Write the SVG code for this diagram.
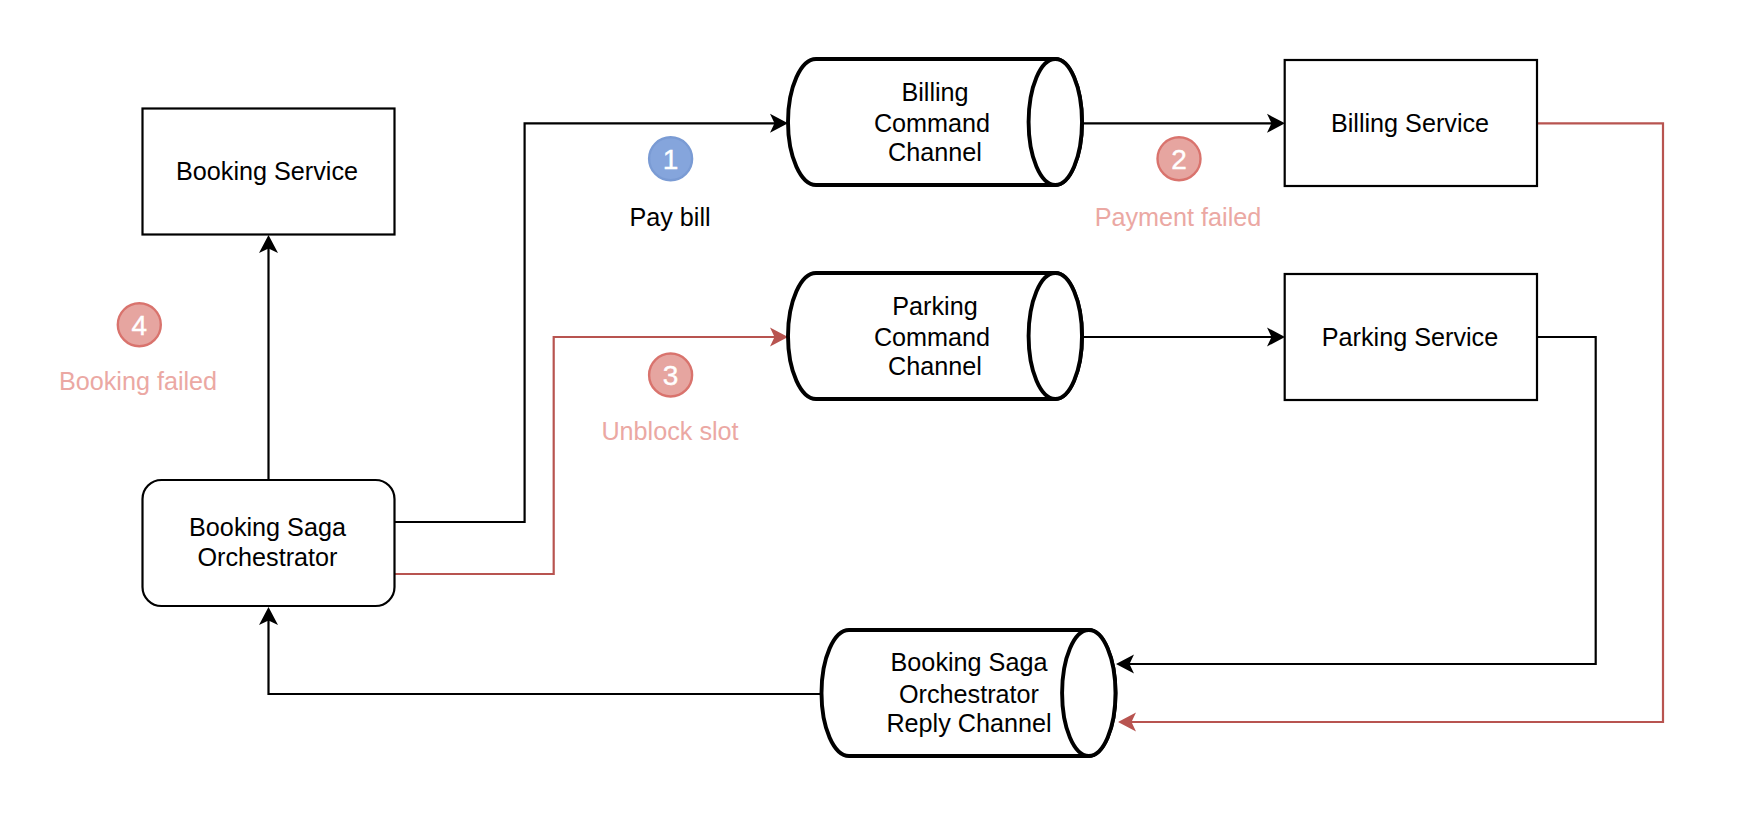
<svg xmlns="http://www.w3.org/2000/svg" width="1754" height="816" viewBox="0 0 1754 816">
<style>
text{font-family:"Liberation Sans",Arial,sans-serif;font-size:25.2px;fill:#000;text-anchor:middle}
.box{fill:#fff;stroke:#000;stroke-width:2.2}
.cyl{fill:#fff;stroke:#000;stroke-width:3.9}
.k{fill:none;stroke:#000;stroke-width:2.2}
.r{fill:none;stroke:#b85450;stroke-width:2.2}
.rc{fill:#e6a5a0;stroke:#d9736d;stroke-width:2.4}
.bc{fill:#85a5dc;stroke:#7a9bd4;stroke-width:2.4}
text.n{fill:#fff;font-size:28px;stroke:#fff;stroke-width:.4}
text.f{fill:#eba8a3}
</style>
<defs>
<marker id="ak" markerUnits="userSpaceOnUse" markerWidth="22" markerHeight="22" refX="15" refY="11" orient="auto"><path d="M0 1.5L18 11L0 20.5L4.5 11Z" fill="#000"/></marker>
<marker id="ar" markerUnits="userSpaceOnUse" markerWidth="22" markerHeight="22" refX="15" refY="11" orient="auto"><path d="M0 1.5L18 11L0 20.5L4.5 11Z" fill="#b85450"/></marker>
</defs>
<g id="connectors">
<path class="k" marker-end="url(#ak)" d="M268.5 480V238"/>
<path class="k" marker-end="url(#ak)" d="M394.5 522H524.6V123.3H785"/>
<path class="r" marker-end="url(#ar)" d="M394.5 574H553.7V337H785"/>
<path class="k" marker-end="url(#ak)" d="M1082 123.3H1282"/>
<path class="k" marker-end="url(#ak)" d="M1082 337H1282"/>
<path class="r" marker-end="url(#ar)" d="M1537 123.3H1663V722H1121"/>
<path class="k" marker-end="url(#ak)" d="M1537 337H1595.7V664H1119"/>
<path class="k" marker-end="url(#ak)" d="M821 694H268.5V610"/>
</g>
<g id="booking-service"><rect class="box" x="142.5" y="108.5" width="252" height="126"/><text x="267" y="179.5">Booking Service</text></g>
<g id="orchestrator"><rect class="box" x="142.5" y="480" width="252" height="126" rx="19" ry="19"/><text x="267.5" y="536">Booking Saga</text><text x="267.5" y="565.5">Orchestrator</text></g>
<g id="billing-channel"><path class="cyl" d="M816 59H1055C1069.5 59 1082 87 1082 122S1069.5 185 1055 185H816C801 185 788 157 788 122S801 59 816 59Z"/><ellipse class="cyl" cx="1055.3" cy="122" rx="26.7" ry="63"/><text x="935" y="101">Billing</text><text x="932" y="132">Command</text><text x="935" y="161">Channel</text></g>
<g id="parking-channel"><path class="cyl" d="M816 273H1055C1069.5 273 1082 301 1082 336S1069.5 399 1055 399H816C801 399 788 371 788 336S801 273 816 273Z"/><ellipse class="cyl" cx="1055.3" cy="336" rx="26.7" ry="63"/><text x="935" y="315">Parking</text><text x="932" y="346">Command</text><text x="935" y="375">Channel</text></g>
<g id="reply-channel"><path class="cyl" d="M849 630H1088.5C1103 630 1115.5 658 1115.5 693S1103 756 1088.5 756H849C834 756 821.5 728 821.5 693S834 630 849 630Z"/><ellipse class="cyl" cx="1088.8" cy="693" rx="26.7" ry="63"/><text x="969" y="671">Booking Saga</text><text x="969" y="702.5">Orchestrator</text><text x="969" y="731.5">Reply Channel</text></g>
<g id="billing-service"><rect class="box" x="1284.7" y="60" width="252.3" height="126"/><text x="1410" y="132">Billing Service</text></g>
<g id="parking-service"><rect class="box" x="1284.7" y="274" width="252.3" height="126"/><text x="1410" y="346">Parking Service</text></g>
<g id="step1"><circle class="bc" cx="670.6" cy="158.7" r="21.5"/><text class="n" x="670.6" y="168.5">1</text><text x="670" y="226">Pay bill</text></g>
<g id="step2"><circle class="rc" cx="1179" cy="158.7" r="21.5"/><text class="n" x="1179" y="168.5">2</text><text class="f" x="1178" y="226">Payment failed</text></g>
<g id="step3"><circle class="rc" cx="670.6" cy="375" r="21.5"/><text class="n" x="670.6" y="385">3</text><text class="f" x="670" y="440">Unblock slot</text></g>
<g id="step4"><circle class="rc" cx="139.3" cy="324.7" r="21.5"/><text class="n" x="139.3" y="334.5">4</text><text class="f" x="138" y="390">Booking failed</text></g>
</svg>
